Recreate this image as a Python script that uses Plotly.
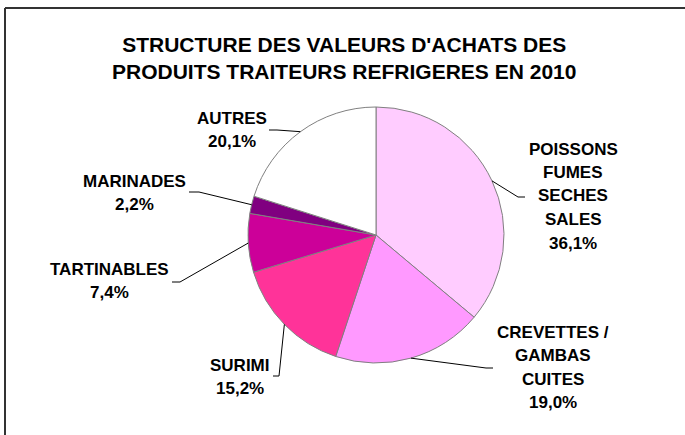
import math
import plotly.graph_objects as go

# data
categories = ["POISSONS\nFUMES\nSECHES\nSALES", "CREVETTES /\nGAMBAS\nCUITES", "SURIMI",
              "TARTINABLES", "MARINADES", "AUTRES"]
shares = [36.1, 19.0, 15.2, 7.4, 2.2, 20.1]
colors = ["#FFCCFF", "#FF99FF", "#FF3399", "#CC0099", "#800080", "#FFFFFF"]

W, H = 685, 435
CX, CY, R = 376, 235, 128  # pie centre / radius in pixels

# label layout: text centre x, first line y, elbow of leader, stub end
label_pos = [
    (573, 149, (518, 197), (525, 197)),
    (553, 332, (486, 368), (493, 368)),
    (240, 365, (279, 376), (273, 376)),
    (109, 269, (180, 282), (172, 282)),
    (134, 181, (199, 192), (189, 192)),
    (232, 118, (277, 130), (269, 130)),
]
LINE_GAP = 23.5
FONT = "Liberation Sans, Arial, sans-serif"


def px(x):
    return x / W


def py(y):
    return 1 - y / H


fig = go.Figure()
fig.add_trace(go.Pie(
    labels=[c.replace("\n", " ") for c in categories],
    values=shares,
    sort=False,
    direction="clockwise",
    rotation=0,
    marker=dict(colors=colors, line=dict(color="#808080", width=1)),
    textinfo="none",
    hoverinfo="label+percent",
    showlegend=False,
    domain=dict(x=[px(CX - R), px(CX + R)], y=[py(CY + R), py(CY - R)]),
))

annotations = []
shapes = []
total = sum(shares)
cum = 0
for cat, val, (lx, ly, elbow, stub) in zip(categories, shares, label_pos):
    mid = (cum + val / 2) / total * 2 * math.pi
    cum += val
    ex = CX + R * math.sin(mid)
    ey = CY - R * math.cos(mid)
    shapes.append(dict(type="path", xref="paper", yref="paper",
                       path=f"M {px(ex)} {py(ey)} L {px(elbow[0])} {py(elbow[1])} L {px(stub[0])} {py(stub[1])}",
                       line=dict(color="black", width=1)))
    lines = cat.split("\n") + [f"{val:.1f}".replace(".", ",") + "%"]
    for i, t in enumerate(lines):
        annotations.append(dict(x=px(lx), y=py(ly + i * LINE_GAP), xref="paper", yref="paper",
                                text=f"<b>{t}</b>", showarrow=False, xanchor="center", yanchor="middle",
                                font=dict(family=FONT, size=17, color="black")))

annotations.append(dict(x=px(344), y=py(58), xref="paper", yref="paper",
                        text="<b>STRUCTURE DES VALEURS D'ACHATS DES<br>PRODUITS TRAITEURS REFRIGERES EN 2010</b>",
                        showarrow=False, xanchor="center", yanchor="middle",
                        font=dict(family=FONT, size=21, color="black")))

# chart frame (only top and left edges visible)
shapes.append(dict(type="line", xref="paper", yref="paper", x0=px(5), y0=py(8), x1=1.01, y1=py(8),
                   line=dict(color="#333333", width=2)))
shapes.append(dict(type="line", xref="paper", yref="paper", x0=px(5), y0=py(8), x1=px(5), y1=-0.01,
                   line=dict(color="#333333", width=2)))

fig.update_layout(
    width=W, height=H,
    margin=dict(l=0, r=0, t=0, b=0),
    paper_bgcolor="white",
    plot_bgcolor="white",
    annotations=annotations,
    shapes=shapes,
)
fig.write_html("out.html", config={"displayModeBar": False},
               post_script="document.body.style.margin='0';")
